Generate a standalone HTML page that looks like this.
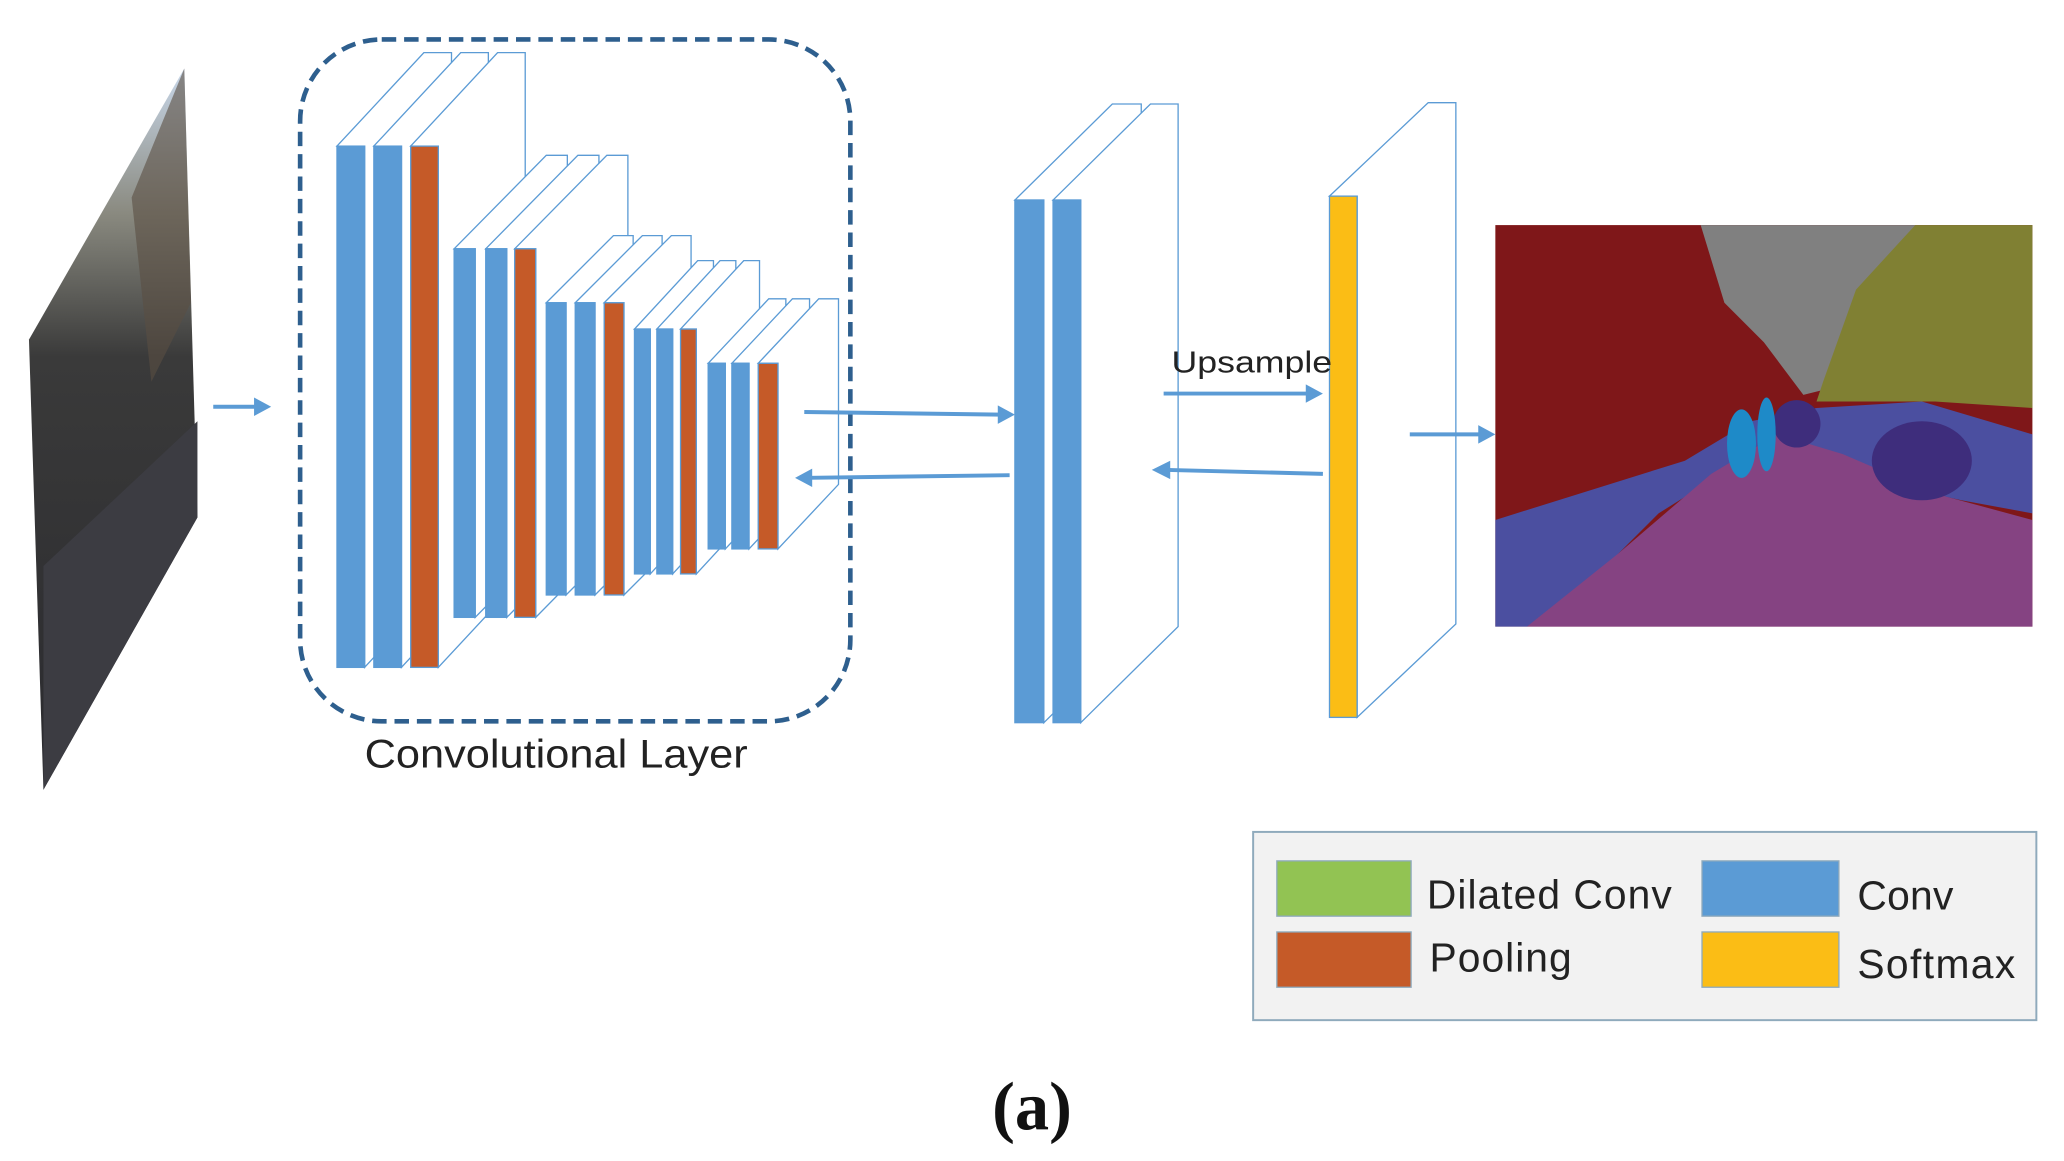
<!DOCTYPE html>
<html><head><meta charset="utf-8"><style>html,body{margin:0;padding:0;background:#fff;}svg{display:block}</style></head>
<body>
<svg width="2064" height="1161" viewBox="0 0 1568 882" xmlns="http://www.w3.org/2000/svg">
<defs>
<linearGradient id="ph" x1="0" y1="0" x2="0" y2="1">
<stop offset="0" stop-color="#c9d8ea"/><stop offset="0.2" stop-color="#8a8a80"/><stop offset="0.4" stop-color="#3a3a3a"/><stop offset="1" stop-color="#2a2a2e"/></linearGradient>
</defs>
<!-- input image -->
<polygon points="22,258 140,52 150,393 33,600" fill="url(#ph)"/>
<polygon points="100,150 140,52 145,230 115,290" fill="#5a4e42" opacity="0.6"/>
<polygon points="33,430 150,320 150,393 33,600" fill="#3c3c42"/>
<rect x="228" y="30" width="418" height="518" rx="62" fill="none" stroke="#2e5f8e" stroke-width="3.5" stroke-dasharray="11,6"/>
<g stroke="#5b9bd5" stroke-width="1">
<polygon points="256,111 322,40 343,40 343,436 277,507 277,111" fill="#fff"/><rect x="256" y="111" width="21" height="396" fill="#5b9bd5"/>
<polygon points="284,111 350,40 371,40 371,436 305,507 305,111" fill="#fff"/><rect x="284" y="111" width="21" height="396" fill="#5b9bd5"/>
<polygon points="312,111 378,40 399,40 399,436 333,507 333,111" fill="#fff"/><rect x="312" y="111" width="21" height="396" fill="#c55a28"/>

<polygon points="345,189 415,118 431,118 431,398 361,469 361,189" fill="#fff"/><rect x="345" y="189" width="16" height="280" fill="#5b9bd5"/>
<polygon points="369,189 439,118 455,118 455,398 385,469 385,189" fill="#fff"/><rect x="369" y="189" width="16" height="280" fill="#5b9bd5"/>
<polygon points="391,189 461,118 477,118 477,398 407,469 407,189" fill="#fff"/><rect x="391" y="189" width="16" height="280" fill="#c55a28"/>

<polygon points="415,230 466,179 481,179 481,401 430,452 430,230" fill="#fff"/><rect x="415" y="230" width="15" height="222" fill="#5b9bd5"/>
<polygon points="437,230 488,179 503,179 503,401 452,452 452,230" fill="#fff"/><rect x="437" y="230" width="15" height="222" fill="#5b9bd5"/>
<polygon points="459,230 510,179 525,179 525,401 474,452 474,230" fill="#fff"/><rect x="459" y="230" width="15" height="222" fill="#c55a28"/>

<polygon points="482,250 530,198 542,198 542,384 494,436 494,250" fill="#fff"/><rect x="482" y="250" width="12" height="186" fill="#5b9bd5"/>
<polygon points="499,250 547,198 559,198 559,384 511,436 511,250" fill="#fff"/><rect x="499" y="250" width="12" height="186" fill="#5b9bd5"/>
<polygon points="517,250 565,198 577,198 577,384 529,436 529,250" fill="#fff"/><rect x="517" y="250" width="12" height="186" fill="#c55a28"/>

<polygon points="538,276 584,227 597,227 597,368 551,417 551,276" fill="#fff"/><rect x="538" y="276" width="13" height="141" fill="#5b9bd5"/>
<polygon points="556,276 602,227 615,227 615,368 569,417 569,276" fill="#fff"/><rect x="556" y="276" width="13" height="141" fill="#5b9bd5"/>
<polygon points="576,276 622,227 637,227 637,368 591,417 591,276" fill="#fff"/><rect x="576" y="276" width="15" height="141" fill="#c55a28"/>

<polygon points="771,152 845,79 867,79 867,476 793,549 793,152" fill="#fff"/><rect x="771" y="152" width="22" height="397" fill="#5b9bd5"/>
<polygon points="800,152 874,79 895,79 895,476 821,549 821,152" fill="#fff"/><rect x="800" y="152" width="21" height="397" fill="#5b9bd5"/>

<polygon points="1010,149 1085,78 1106,78 1106,474 1031,545 1031,149" fill="#fff"/><rect x="1010" y="149" width="21" height="396" fill="#fbbd15"/>
</g>
<!-- arrows -->
<g stroke="#5b9bd5" stroke-width="3" fill="#5b9bd5">
<line x1="162" y1="309" x2="195" y2="309"/><polygon points="193,302 206,309 193,316" stroke="none"/>
<line x1="611" y1="313" x2="760" y2="315"/><polygon points="758,308 771,315 758,322" stroke="none"/>
<line x1="767" y1="361" x2="615" y2="363"/><polygon points="617,356 604,363 617,370" stroke="none"/>
<line x1="884" y1="299" x2="993" y2="299"/><polygon points="992,292 1005,299 992,306" stroke="none"/>
<line x1="1005" y1="360" x2="887" y2="357"/><polygon points="889,350 875,357 889,364" stroke="none"/>
<line x1="1071" y1="330" x2="1124" y2="330"/><polygon points="1123,323 1136,330 1123,337" stroke="none"/>
</g>
<text x="890" y="283" font-family="Liberation Sans, sans-serif" font-size="23" textLength="122" lengthAdjust="spacingAndGlyphs" fill="#222">Upsample</text>
<text x="277" y="583" font-family="Liberation Sans, sans-serif" font-size="30" textLength="291" lengthAdjust="spacingAndGlyphs" fill="#222">Convolutional Layer</text>
<!-- segmentation -->
<rect x="1136" y="171" width="408" height="305" fill="#7f1719"/>
<polygon points="1292,171 1455,171 1440,240 1410,290 1370,300 1340,260 1310,230" fill="#808080"/>
<polygon points="1455,171 1544,171 1544,310 1470,305 1380,305 1385,290 1410,220" fill="#808033"/>
<polygon points="1136,395 1200,375 1280,350 1330,320 1380,310 1460,305 1544,330 1544,390 1490,380 1400,360 1340,340 1260,390 1200,450 1160,476 1136,476" fill="#4b4fa0"/>
<polygon points="1160,476 1230,420 1300,360 1350,330 1400,345 1470,375 1544,395 1544,476" fill="#854382"/>
<ellipse cx="1460" cy="350" rx="38" ry="30" fill="#3e2d7c"/>
<ellipse cx="1365" cy="322" rx="18" ry="18" fill="#3e2d7c"/>
<ellipse cx="1323" cy="337" rx="11" ry="26" fill="#1e8ac8"/>
<ellipse cx="1342" cy="330" rx="7" ry="28" fill="#1e8ac8"/>
<!-- legend -->
<rect x="952" y="632" width="595" height="143" fill="#f2f2f2" stroke="#8faabc" stroke-width="1.5"/>
<rect x="970" y="654" width="102" height="42" fill="#92c353" stroke="#8faabc"/>
<rect x="970" y="708" width="102" height="42" fill="#c55a28" stroke="#8faabc"/>
<rect x="1293" y="654" width="104" height="42" fill="#5b9bd5" stroke="#8faabc"/>
<rect x="1293" y="708" width="104" height="42" fill="#fbbd15" stroke="#8faabc"/>
<g font-family="Liberation Sans, sans-serif" font-size="31" fill="#222" lengthAdjust="spacingAndGlyphs">
<text x="1084" y="690" textLength="186">Dilated Conv</text><text x="1086" y="738" textLength="108">Pooling</text>
<text x="1411" y="691" textLength="73">Conv</text><text x="1411" y="743" textLength="120">Softmax</text></g>
<text x="784" y="858" text-anchor="middle" font-family="Liberation Serif, serif" font-size="52" font-weight="bold" fill="#111">(a)</text>
</svg>
</body></html>
